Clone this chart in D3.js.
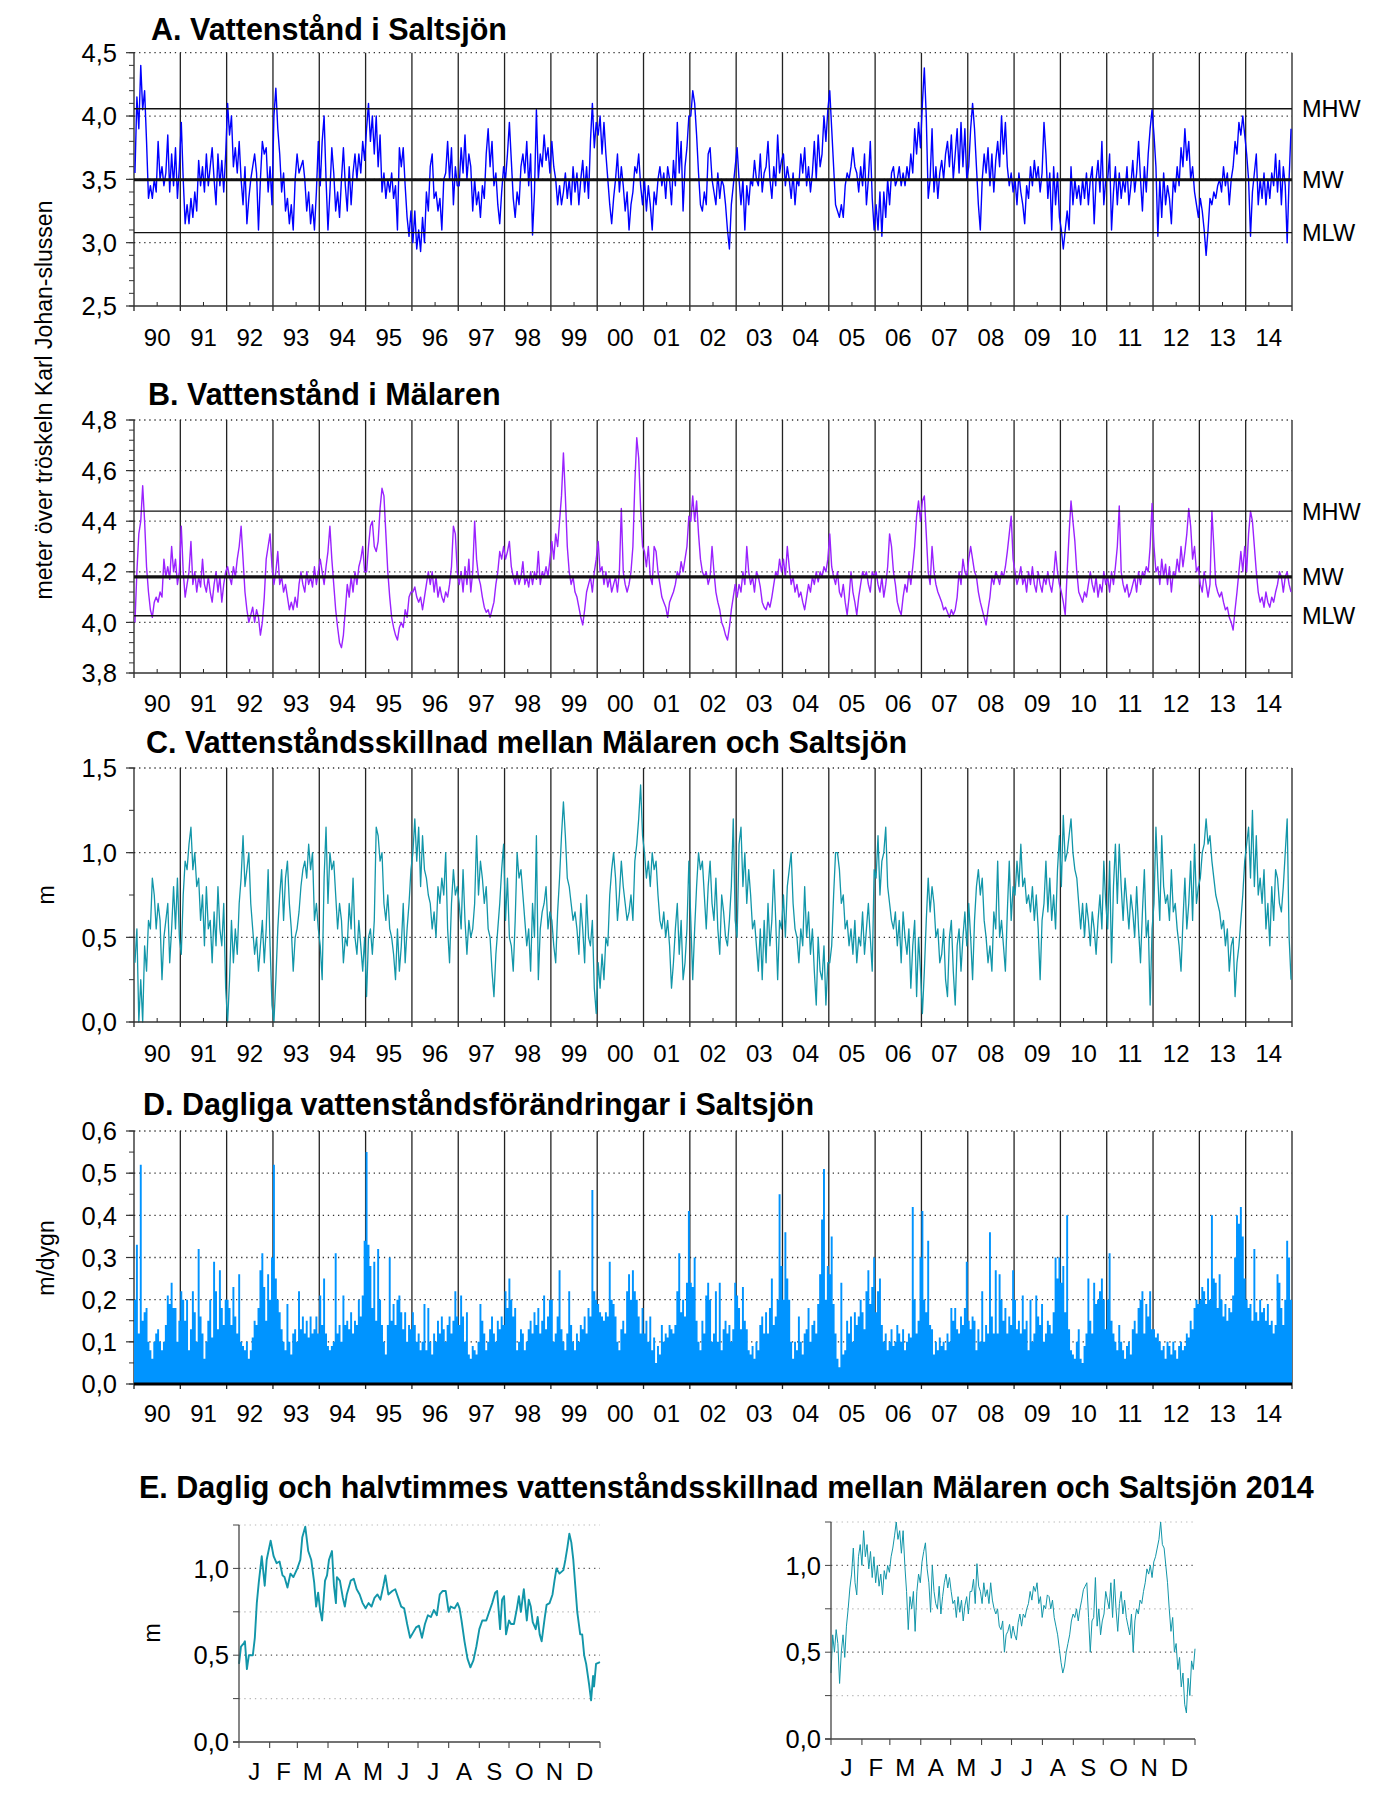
<!DOCTYPE html>
<html><head><meta charset="utf-8">
<script src="https://cdn.jsdelivr.net/npm/d3@7"></script>
<style>
body{margin:0;background:#fff;}
svg text{font-family:"Liberation Sans",Arial,Helvetica,sans-serif;fill:#000;}
</style></head><body>
<svg id="c" width="1387" height="1797"></svg>
<script>
// ---------------- DATA ----------------
const years = d3.range(1990, 2015);
const yearLabels = years.map(y => String(y % 100).padStart(2, "0"));

// A. Vattenstånd i Saltsjön (m), ~semi-monthly readings, one row per year 1990..2014
const saltRows = [
[3.55,4.15,3.9,4.4,4.05,4.2,3.8,3.35,3.45,3.35,3.5,3.4,3.8,3.5,3.6,3.45,3.55,3.85,3.4,3.7,3.45,3.75,3.35,3.6],
[3.95,3.5,3.15,3.3,3.15,3.35,3.2,3.4,3.25,3.65,3.45,3.6,3.4,3.7,3.45,3.6,3.75,3.5,3.3,3.7,3.45,3.65,3.4,3.7],
[4.1,3.85,4.0,3.6,3.75,3.55,3.8,3.5,3.3,3.6,3.15,3.35,3.5,3.6,3.7,3.55,3.1,3.5,3.8,3.7,3.75,3.4,3.6,3.3],
[4.0,4.22,3.9,3.7,3.4,3.55,3.25,3.35,3.15,3.3,3.1,3.5,3.7,3.55,3.6,3.65,3.5,3.25,3.4,3.15,3.3,3.1,3.4,3.8],
[3.45,3.8,4.0,3.5,3.1,3.4,3.75,3.55,3.25,3.4,3.2,3.5,3.75,3.45,3.25,3.6,3.3,3.55,3.7,3.5,3.7,3.55,3.8,3.65],
[3.9,4.1,3.8,4.0,3.7,4.0,3.6,3.85,3.4,3.55,3.35,3.5,3.4,3.55,3.35,3.45,3.1,3.75,3.6,3.75,3.45,3.2,3.05,3.25],
[3.0,3.25,2.95,3.1,2.93,3.2,3.0,3.4,3.25,3.6,3.7,3.35,3.4,3.25,3.35,3.1,3.5,3.55,3.8,3.5,3.75,3.3,3.6,3.45],
[3.45,3.75,3.55,3.85,3.5,3.7,3.6,3.25,3.5,3.3,3.4,3.2,3.45,3.35,3.7,3.9,3.6,3.8,3.45,3.55,3.3,3.15,3.4,3.6],
[3.5,3.7,3.95,3.65,3.35,3.2,3.4,3.3,3.6,3.7,3.55,3.8,3.45,3.7,3.06,3.4,4.05,3.5,3.7,3.6,3.85,3.65,3.75,3.55],
[3.8,3.6,3.5,3.3,3.45,3.3,3.4,3.55,3.35,3.5,3.3,3.6,3.4,3.55,3.3,3.5,3.65,3.4,3.6,3.35,3.8,4.1,3.75,3.95],
[3.85,4.0,3.7,3.95,3.7,3.5,3.3,3.15,3.35,3.5,3.7,3.4,3.6,3.45,3.25,3.4,3.1,3.3,3.4,3.6,3.55,3.7,3.45,3.3],
[3.5,3.25,3.45,3.3,3.1,3.4,3.3,3.5,3.6,3.45,3.55,3.35,3.6,3.5,3.3,3.65,3.45,3.95,3.55,3.8,3.25,3.6,3.75,4.0],
[4.0,4.2,4.1,3.85,3.55,3.3,3.25,3.4,3.3,3.7,3.75,3.5,3.4,3.3,3.55,3.35,3.5,3.45,3.3,3.1,2.95,3.3,3.45,3.6],
[3.75,3.5,3.3,3.5,3.1,3.45,3.3,3.5,3.45,3.65,3.5,3.45,3.7,3.4,3.55,3.6,3.8,3.5,3.35,3.6,3.45,3.85,3.55,3.65],
[3.7,3.45,3.6,3.5,3.35,3.55,3.3,3.5,3.45,3.7,3.55,3.75,3.45,3.6,3.4,3.55,3.8,3.5,3.85,3.6,3.7,4.0,3.8,4.05],
[4.2,3.9,3.6,3.3,3.25,3.2,3.3,3.2,3.45,3.55,3.5,3.6,3.75,3.6,3.55,3.4,3.6,3.45,3.7,3.3,3.5,3.8,3.35,3.1],
[3.3,3.1,3.4,3.05,3.4,3.2,3.5,3.3,3.55,3.6,3.45,3.5,3.6,3.45,3.55,3.45,3.6,3.5,3.7,3.55,3.9,3.7,3.95,3.75],
[4.1,4.38,4.0,3.35,3.5,3.9,3.4,3.6,3.35,3.55,3.65,3.5,3.7,3.8,3.6,3.85,3.5,3.7,3.9,3.55,3.95,3.6,3.9,3.5],
[3.6,3.9,4.1,3.9,3.6,3.3,3.1,3.5,3.7,3.55,3.75,3.45,3.7,3.4,3.65,3.8,3.6,4.0,3.7,3.95,3.6,3.45,3.55,3.4],
[3.5,3.3,3.55,3.4,3.3,3.15,3.45,3.35,3.6,3.45,3.65,3.5,3.6,3.4,3.55,3.95,3.7,3.35,3.55,3.1,3.6,3.3,3.55,3.2],
[3.1,2.95,3.1,3.25,3.1,3.6,3.3,3.5,3.35,3.45,3.3,3.5,3.35,3.55,3.3,3.5,3.6,3.15,3.5,3.65,3.4,3.8,3.3,3.5],
[3.5,3.7,3.1,3.4,3.6,3.3,3.55,3.35,3.5,3.4,3.6,3.3,3.45,3.65,3.4,3.55,3.8,3.5,3.25,3.6,3.4,3.7,3.9,4.05],
[3.85,3.6,3.05,3.5,3.2,3.55,3.3,3.45,3.35,3.15,3.5,3.4,3.6,3.45,3.75,3.6,3.9,3.65,3.8,3.5,3.6,3.4,3.3,3.2],
[3.35,3.25,3.1,2.9,3.1,3.35,3.3,3.4,3.35,3.45,3.5,3.4,3.6,3.45,3.55,3.3,3.5,3.6,3.8,3.7,3.95,3.85,4.0,3.85],
[3.7,3.5,3.05,3.4,3.55,3.7,3.3,3.5,3.35,3.55,3.3,3.5,3.35,3.55,3.45,3.7,3.4,3.65,3.3,3.6,3.45,3.0,3.5,3.9]
];
const saltRefNames = ["MHW", "MW", "MLW"];
const saltRefValues = [4.058, 3.497, 3.079];

// B. Vattenstånd i Mälaren (m)
const malarRows = [
[4.0,4.2,4.35,4.4,4.54,4.4,4.22,4.12,4.05,4.02,4.08,4.1,4.08,4.12,4.1,4.25,4.18,4.22,4.17,4.3,4.2,4.25,4.15,4.2],
[4.38,4.2,4.1,4.15,4.2,4.32,4.15,4.2,4.12,4.18,4.14,4.25,4.15,4.12,4.18,4.12,4.08,4.15,4.2,4.12,4.18,4.08,4.15,4.2],
[4.22,4.18,4.15,4.22,4.18,4.25,4.3,4.38,4.25,4.12,4.05,4.0,4.03,4.06,4.0,4.05,4.02,3.95,4.0,4.1,4.25,4.3,4.35,4.22],
[4.15,4.2,4.28,4.15,4.18,4.12,4.15,4.1,4.05,4.08,4.05,4.1,4.06,4.15,4.2,4.15,4.12,4.2,4.15,4.18,4.14,4.22,4.15,4.2],
[4.25,4.2,4.15,4.22,4.28,4.38,4.25,4.15,4.05,3.98,3.92,3.9,3.95,4.05,4.15,4.1,4.18,4.12,4.2,4.15,4.22,4.25,4.3,4.2],
[4.2,4.3,4.38,4.4,4.3,4.28,4.32,4.45,4.53,4.5,4.35,4.2,4.1,4.02,3.98,3.95,3.93,3.98,4.0,3.98,4.05,4.02,4.1,4.12],
[4.12,4.14,4.1,4.08,4.1,4.05,4.1,4.15,4.2,4.15,4.2,4.12,4.18,4.1,4.14,4.1,4.08,4.12,4.1,4.15,4.22,4.38,4.35,4.2],
[4.15,4.2,4.12,4.22,4.15,4.25,4.12,4.2,4.4,4.25,4.18,4.15,4.1,4.06,4.04,4.05,4.02,4.05,4.08,4.15,4.2,4.28,4.25,4.3],
[4.25,4.28,4.32,4.22,4.18,4.15,4.2,4.15,4.18,4.24,4.15,4.18,4.14,4.2,4.15,4.2,4.17,4.28,4.15,4.2,4.18,4.22,4.18,4.25],
[4.32,4.25,4.35,4.3,4.4,4.5,4.67,4.5,4.3,4.2,4.15,4.18,4.12,4.1,4.06,4.02,3.99,4.05,4.12,4.15,4.18,4.12,4.2,4.25],
[4.32,4.2,4.22,4.15,4.2,4.14,4.18,4.12,4.15,4.18,4.12,4.2,4.45,4.2,4.15,4.12,4.15,4.2,4.3,4.55,4.73,4.65,4.45,4.3],
[4.28,4.22,4.3,4.18,4.15,4.3,4.28,4.2,4.15,4.1,4.08,4.06,4.02,4.08,4.1,4.12,4.15,4.2,4.18,4.24,4.2,4.25,4.3,4.42],
[4.4,4.5,4.4,4.48,4.35,4.25,4.2,4.18,4.2,4.15,4.18,4.3,4.2,4.12,4.08,4.05,4.0,3.98,3.95,3.93,3.98,4.05,4.1,4.15],
[4.1,4.15,4.12,4.2,4.15,4.3,4.2,4.15,4.18,4.12,4.2,4.18,4.14,4.08,4.06,4.05,4.08,4.06,4.1,4.15,4.2,4.18,4.25,4.2],
[4.25,4.18,4.3,4.22,4.15,4.18,4.12,4.15,4.1,4.12,4.08,4.05,4.1,4.15,4.12,4.18,4.15,4.2,4.16,4.2,4.18,4.22,4.2,4.25],
[4.35,4.22,4.18,4.15,4.2,4.12,4.1,4.15,4.08,4.03,4.1,4.2,4.12,4.08,4.03,4.1,4.15,4.2,4.18,4.2,4.15,4.12,4.2,4.18],
[4.2,4.15,4.12,4.18,4.1,4.15,4.22,4.35,4.3,4.2,4.15,4.08,4.05,4.03,4.1,4.15,4.12,4.2,4.15,4.22,4.3,4.42,4.48,4.4],
[4.48,4.5,4.35,4.2,4.15,4.3,4.2,4.15,4.12,4.1,4.08,4.05,4.06,4.04,4.02,4.05,4.03,4.05,4.1,4.2,4.15,4.25,4.2,4.18],
[4.25,4.3,4.25,4.2,4.18,4.12,4.08,4.05,4.02,3.99,4.05,4.1,4.18,4.15,4.2,4.18,4.15,4.2,4.18,4.22,4.28,4.35,4.42,4.25],
[4.2,4.15,4.18,4.22,4.15,4.18,4.12,4.2,4.15,4.22,4.15,4.12,4.2,4.15,4.12,4.18,4.15,4.2,4.15,4.12,4.18,4.28,4.2,4.15],
[4.12,4.08,4.03,4.2,4.35,4.48,4.4,4.32,4.2,4.12,4.1,4.08,4.12,4.1,4.15,4.2,4.15,4.12,4.18,4.1,4.15,4.12,4.2,4.15],
[4.18,4.12,4.2,4.15,4.22,4.3,4.46,4.2,4.15,4.12,4.15,4.1,4.12,4.15,4.18,4.12,4.2,4.15,4.2,4.18,4.22,4.2,4.3,4.47],
[4.3,4.2,4.22,4.15,4.25,4.18,4.23,4.15,4.22,4.12,4.2,4.18,4.25,4.2,4.3,4.22,4.28,4.35,4.45,4.38,4.25,4.3,4.2,4.22],
[4.15,4.12,4.2,4.15,4.1,4.15,4.44,4.3,4.15,4.12,4.1,4.12,4.08,4.05,4.06,4.02,4.0,3.97,4.05,4.12,4.2,4.28,4.2,4.3],
[4.2,4.35,4.44,4.4,4.3,4.2,4.12,4.08,4.1,4.06,4.12,4.08,4.06,4.1,4.08,4.12,4.15,4.2,4.18,4.12,4.18,4.2,4.15,4.12]
];
const malarRefNames = ["MHW", "MW", "MLW"];
const malarRefValues = [4.44, 4.18, 4.026];

// C. Vattenståndsskillnad mellan Mälaren och Saltsjön (m)
const diffRows = [
[0.35,0.55,0.0,0.25,0.0,0.45,0.3,0.6,0.55,0.85,0.75,0.55,0.7,0.6,0.25,0.5,0.6,0.7,0.35,0.55,0.8,0.55,0.85,0.5],
[0.4,0.75,0.95,0.9,1.05,1.15,0.9,1.0,0.8,0.85,0.6,0.75,0.45,0.8,0.55,0.6,0.35,0.65,0.45,0.8,0.55,0.45,0.7,0.2],
[0.0,0.25,0.6,0.35,0.55,0.4,0.7,0.85,1.1,0.8,0.9,1.0,0.7,0.55,0.4,0.5,0.3,0.45,0.6,0.35,0.55,0.9,0.45,0.1],
[0.0,0.25,0.55,0.75,0.9,0.6,0.85,0.95,0.7,0.55,0.3,0.5,0.55,0.65,0.8,0.9,0.95,0.85,1.05,0.9,1.0,0.6,0.7,0.55],
[0.45,0.25,0.85,1.15,0.7,1.0,0.9,0.95,0.75,0.55,0.7,0.6,0.35,0.5,0.45,0.7,0.55,0.85,0.5,0.4,0.6,0.45,0.3,0.5],
[0.15,0.5,0.55,0.4,0.6,1.15,1.1,0.95,1.0,0.7,0.6,0.75,0.55,0.5,0.4,0.25,0.55,0.3,0.45,0.7,0.35,0.55,0.7,0.9],
[1.0,1.2,0.95,1.15,0.8,1.1,0.9,0.85,0.75,0.7,0.55,0.65,0.5,0.8,0.7,0.85,0.75,1.0,0.55,0.35,0.7,0.9,0.75,0.8],
[0.7,0.55,0.9,0.6,0.4,0.6,0.5,0.55,0.7,1.1,0.75,0.95,0.85,0.7,0.8,0.55,0.5,0.3,0.15,0.4,0.55,0.7,0.9,1.05],
[0.6,0.85,0.5,0.45,0.3,0.6,1.0,0.85,0.9,0.75,0.6,0.45,0.55,0.3,0.7,0.5,1.1,0.25,0.55,0.65,0.7,0.8,0.55,0.65],
[0.6,0.45,0.35,0.65,0.85,1.1,1.3,1.1,0.85,0.8,0.7,0.6,0.65,0.55,0.4,0.7,0.55,0.35,0.75,0.5,0.45,0.6,0.2,0.05],
[0.35,0.2,0.4,0.25,0.5,0.45,0.75,0.9,1.0,0.85,0.6,0.75,0.95,0.8,0.7,0.6,0.65,0.75,0.6,0.95,1.05,1.2,1.4,1.1],
[1.0,0.85,0.95,0.8,1.0,0.9,0.95,0.75,0.6,0.55,0.65,0.5,0.6,0.45,0.2,0.35,0.55,0.7,0.4,0.6,0.25,0.35,0.55,0.95],
[0.6,0.25,0.55,0.8,1.0,0.9,0.95,0.75,0.55,0.8,0.95,0.7,0.6,0.85,0.55,0.4,0.75,0.65,0.5,0.45,0.6,0.8,1.2,0.6],
[0.5,1.05,1.15,0.8,1.0,0.7,0.9,0.75,0.55,0.6,0.45,0.3,0.55,0.25,0.6,0.35,0.7,0.45,0.6,0.9,0.6,0.25,0.6,0.55],
[0.75,0.5,0.8,0.9,1.0,0.7,0.55,0.5,0.35,0.55,0.45,0.8,0.5,0.65,0.4,0.55,0.3,0.1,0.5,0.3,0.25,0.45,0.1,0.35],
[0.35,0.45,0.75,1.0,1.0,0.9,0.7,0.75,0.55,0.6,0.45,0.55,0.4,0.6,0.35,0.5,0.45,0.65,0.4,0.55,0.7,0.5,0.3,0.9],
[0.85,1.1,0.75,0.95,1.0,1.15,0.8,0.7,0.6,0.55,0.65,0.45,0.6,0.35,0.65,0.5,0.4,0.55,0.2,0.45,0.6,0.15,0.5,0.3],
[0.05,0.3,0.6,0.85,0.65,0.8,0.7,0.5,0.55,0.35,0.4,0.55,0.25,0.15,0.5,0.6,0.3,0.1,0.45,0.55,0.3,0.5,0.65,0.45],
[0.7,0.5,0.25,0.6,0.8,0.9,0.75,0.85,0.6,0.5,0.35,0.45,0.3,0.65,0.55,0.95,0.5,0.6,0.45,0.3,0.65,0.95,0.6,0.8],
[0.75,0.95,0.8,1.05,0.8,0.85,0.7,0.75,0.65,0.8,0.6,0.75,0.55,0.25,0.6,0.7,0.95,0.65,0.85,0.6,0.75,0.55,0.9,1.1],
[0.8,1.22,0.95,1.0,1.1,1.2,1.0,0.9,0.85,0.7,0.55,0.7,0.5,0.7,0.6,0.45,0.65,0.55,0.4,0.6,0.75,0.55,0.95,0.7],
[0.55,0.95,0.35,0.8,1.05,0.7,1.05,0.8,0.6,0.85,0.7,0.55,0.75,0.65,0.5,0.8,0.55,0.35,0.65,0.9,0.5,0.6,0.1,0.55],
[0.7,1.15,0.85,0.6,1.1,0.8,0.7,0.75,0.6,0.9,0.65,0.7,0.55,0.45,0.3,0.6,0.85,0.55,0.7,0.95,0.6,1.05,0.7,0.8],
[0.85,1.0,1.05,1.2,1.05,1.1,0.95,0.85,0.75,0.7,0.65,0.55,0.6,0.45,0.55,0.3,0.45,0.5,0.15,0.35,0.45,0.6,0.75,0.95],
[1.05,1.15,0.85,1.25,0.8,1.1,0.75,0.85,0.7,0.9,0.55,0.7,0.45,0.8,0.6,0.9,0.85,0.7,0.65,0.8,1.0,1.2,0.5,0.25]
];

// D. Dagliga vattenståndsförändringar i Saltsjön (m/dygn)
const changeRows = [
[0.2,0.33,0.12,0.52,0.15,0.17,0.18,0.1,0.08,0.06,0.1,0.12,0.13,0.1,0.08,0.1,0.14,0.21,0.19,0.24,0.18,0.18,0.1,0.15],
[0.22,0.2,0.15,0.2,0.08,0.13,0.22,0.17,0.1,0.32,0.16,0.12,0.06,0.1,0.15,0.2,0.11,0.29,0.22,0.13,0.27,0.18,0.14,0.2],
[0.2,0.18,0.14,0.23,0.16,0.12,0.26,0.1,0.09,0.08,0.1,0.06,0.08,0.11,0.15,0.14,0.18,0.27,0.31,0.23,0.15,0.26,0.2,0.3],
[0.52,0.25,0.2,0.17,0.13,0.1,0.08,0.19,0.1,0.07,0.12,0.13,0.1,0.22,0.13,0.16,0.12,0.15,0.11,0.16,0.12,0.13,0.16,0.12],
[0.21,0.14,0.25,0.12,0.09,0.08,0.09,0.1,0.31,0.12,0.14,0.1,0.21,0.14,0.15,0.13,0.17,0.12,0.15,0.14,0.2,0.16,0.21,0.34],
[0.55,0.33,0.28,0.18,0.29,0.15,0.32,0.2,0.14,0.1,0.07,0.14,0.3,0.15,0.19,0.14,0.2,0.21,0.17,0.13,0.17,0.1,0.14,0.13],
[0.17,0.14,0.1,0.12,0.08,0.1,0.19,0.08,0.18,0.1,0.07,0.12,0.1,0.15,0.12,0.16,0.13,0.1,0.14,0.16,0.12,0.15,0.22,0.16],
[0.14,0.21,0.16,0.1,0.17,0.07,0.06,0.09,0.08,0.07,0.1,0.19,0.15,0.12,0.08,0.1,0.13,0.16,0.12,0.1,0.15,0.13,0.16,0.14],
[0.22,0.18,0.25,0.2,0.16,0.18,0.08,0.1,0.13,0.12,0.08,0.1,0.13,0.15,0.12,0.17,0.14,0.18,0.12,0.15,0.21,0.13,0.16,0.2],
[0.2,0.1,0.12,0.16,0.27,0.13,0.1,0.08,0.12,0.22,0.14,0.1,0.08,0.12,0.1,0.14,0.13,0.16,0.12,0.18,0.16,0.46,0.22,0.2],
[0.19,0.17,0.16,0.15,0.17,0.16,0.29,0.2,0.19,0.16,0.1,0.08,0.13,0.15,0.12,0.22,0.26,0.2,0.27,0.22,0.2,0.16,0.12,0.18],
[0.12,0.15,0.1,0.16,0.08,0.11,0.05,0.09,0.07,0.14,0.1,0.12,0.11,0.14,0.13,0.12,0.14,0.22,0.31,0.17,0.2,0.16,0.24,0.41],
[0.24,0.23,0.3,0.15,0.1,0.08,0.15,0.12,0.21,0.24,0.2,0.1,0.12,0.22,0.1,0.24,0.08,0.13,0.15,0.12,0.14,0.1,0.13,0.24],
[0.21,0.18,0.13,0.23,0.15,0.13,0.08,0.07,0.09,0.06,0.1,0.08,0.14,0.16,0.12,0.17,0.12,0.18,0.25,0.14,0.16,0.2,0.45,0.28],
[0.2,0.36,0.25,0.2,0.1,0.06,0.1,0.08,0.16,0.1,0.07,0.12,0.13,0.18,0.1,0.14,0.15,0.12,0.19,0.26,0.39,0.51,0.2,0.28],
[0.26,0.35,0.19,0.12,0.06,0.04,0.24,0.07,0.08,0.15,0.12,0.16,0.1,0.17,0.14,0.16,0.2,0.17,0.13,0.22,0.27,0.19,0.23,0.3],
[0.17,0.22,0.25,0.14,0.1,0.12,0.08,0.1,0.13,0.09,0.1,0.14,0.12,0.1,0.13,0.08,0.1,0.12,0.11,0.42,0.2,0.12,0.15,0.3],
[0.41,0.2,0.17,0.34,0.14,0.13,0.07,0.1,0.08,0.11,0.09,0.1,0.08,0.12,0.1,0.18,0.15,0.18,0.13,0.12,0.16,0.14,0.18,0.29],
[0.15,0.13,0.16,0.15,0.08,0.13,0.1,0.22,0.1,0.14,0.12,0.36,0.16,0.12,0.27,0.12,0.26,0.2,0.15,0.18,0.12,0.16,0.14,0.27],
[0.2,0.13,0.15,0.12,0.21,0.13,0.15,0.08,0.2,0.1,0.12,0.21,0.16,0.14,0.19,0.1,0.12,0.15,0.14,0.12,0.17,0.3,0.25,0.3],
[0.24,0.28,0.17,0.4,0.13,0.08,0.07,0.06,0.1,0.13,0.06,0.05,0.09,0.12,0.25,0.15,0.12,0.24,0.19,0.2,0.22,0.25,0.2,0.13],
[0.2,0.31,0.15,0.12,0.1,0.08,0.14,0.1,0.08,0.06,0.09,0.1,0.07,0.13,0.15,0.12,0.18,0.2,0.22,0.12,0.19,0.16,0.22,0.13],
[0.13,0.11,0.12,0.1,0.08,0.09,0.06,0.1,0.09,0.07,0.1,0.08,0.06,0.09,0.1,0.08,0.09,0.12,0.11,0.15,0.13,0.18,0.2,0.19],
[0.2,0.23,0.22,0.19,0.25,0.2,0.4,0.25,0.24,0.18,0.26,0.2,0.16,0.19,0.15,0.18,0.17,0.21,0.3,0.4,0.38,0.42,0.35,0.25],
[0.2,0.18,0.19,0.15,0.32,0.17,0.15,0.2,0.17,0.18,0.15,0.19,0.14,0.15,0.12,0.14,0.26,0.24,0.18,0.14,0.2,0.34,0.3,0.2]
];

// E. 2014: daily (left) and half-hourly (right) difference (m)
const monthLabels = ["J","F","M","A","M","J","J","A","S","O","N","D"];
const monthStarts = [0,31,59,90,120,151,181,212,243,273,304,334,365];
const eDailyDays = [0,2,5,6,8,10,14,16,18,20,23,26,28,32,35,38,41,44,46,49,52,55,59,62,64,67,70,73,76,78,80,82,84,87,89,91,94,96,98,99,102,105,107,109,113,116,119,122,125,128,131,134,137,140,143,146,148,151,155,158,161,164,167,170,173,176,179,182,185,188,191,194,197,200,203,206,209,212,214,218,221,223,225,228,231,234,237,240,243,246,250,253,256,259,261,264,266,268,270,273,275,278,281,283,285,288,291,293,295,297,300,302,304,306,309,311,314,317,319,321,324,328,330,332,334,336,338,340,342,345,347,349,351,354,356,358,359,361,365];
const eDailyVals = [0.45,0.55,0.57,0.58,0.42,0.5,0.5,0.6,0.8,0.92,1.07,0.9,1.05,1.16,1.07,1.03,1.04,0.96,0.95,0.89,0.97,0.95,1.0,1.05,1.18,1.24,1.1,1.05,0.92,0.78,0.86,0.76,0.7,0.93,0.96,1.05,1.1,0.9,0.8,0.95,0.93,0.83,0.78,0.85,0.93,0.94,0.88,0.85,0.8,0.77,0.8,0.78,0.83,0.85,0.82,0.9,0.96,0.85,0.87,0.88,0.83,0.78,0.77,0.68,0.6,0.63,0.66,0.67,0.6,0.68,0.73,0.72,0.76,0.73,0.85,0.87,0.87,0.75,0.78,0.77,0.8,0.77,0.7,0.58,0.48,0.43,0.47,0.55,0.65,0.7,0.7,0.75,0.8,0.86,0.87,0.65,0.82,0.84,0.62,0.7,0.68,0.68,0.77,0.84,0.75,0.88,0.7,0.82,0.78,0.69,0.65,0.72,0.62,0.58,0.71,0.79,0.8,0.85,0.93,1.0,0.97,0.99,1.05,1.12,1.2,1.15,1.05,0.9,0.75,0.62,0.62,0.5,0.45,0.33,0.24,0.38,0.32,0.45,0.46];
const eHalfHourVals = [0.38,0.6,0.5,0.63,0.55,0.32,0.5,0.6,0.47,0.65,0.75,0.87,0.95,1.1,0.9,0.83,1.05,1.12,1.0,1.2,1.05,1.12,0.98,1.08,0.93,1.05,0.9,1.0,0.88,0.95,0.83,0.97,0.92,1.0,0.96,1.05,1.1,1.17,1.25,1.15,1.2,1.07,1.2,1.0,0.85,0.63,0.82,0.75,0.85,0.62,0.85,0.95,0.9,1.02,1.08,1.13,0.98,0.9,0.73,1.0,0.85,0.78,0.75,0.88,0.72,0.82,0.9,0.95,0.87,0.93,0.85,0.78,0.8,0.7,0.82,0.73,0.8,0.68,0.77,0.82,0.72,0.85,0.85,0.92,0.78,1.01,0.88,0.85,0.78,0.9,0.82,0.86,0.78,0.9,0.8,0.75,0.72,0.75,0.65,0.63,0.68,0.5,0.6,0.62,0.66,0.58,0.65,0.6,0.57,0.67,0.72,0.65,0.72,0.7,0.75,0.78,0.85,0.8,0.88,0.85,0.9,0.78,0.82,0.7,0.77,0.75,0.83,0.82,0.75,0.8,0.7,0.65,0.6,0.52,0.44,0.38,0.42,0.5,0.55,0.6,0.68,0.72,0.7,0.75,0.68,0.75,0.8,0.86,0.88,0.9,0.7,0.5,0.68,0.7,0.93,0.65,0.75,0.6,0.68,0.72,0.85,0.8,0.75,0.9,0.7,0.92,0.75,0.62,0.78,0.85,0.72,0.8,0.7,0.65,0.6,0.72,0.5,0.68,0.75,0.72,0.8,0.78,0.85,0.9,0.98,0.95,1.0,0.93,1.02,1.05,1.1,1.15,1.25,1.12,1.1,1.0,0.9,0.75,0.62,0.7,0.5,0.55,0.4,0.47,0.3,0.38,0.2,0.15,0.35,0.25,0.45,0.4,0.52];

// ---------------- DRAWING ----------------
const svg = d3.select("#c");
const X0 = 134, X1 = 1292;
const x = d3.scaleLinear().domain([1990, 2015]).range([X0, X1]);
const comma = v => d3.format(".1f")(v).replace(".", ",");
const FONT = 24;
const TICKFONT = 25.5;
const TITLE = 30.5;

function toSeries(rows) {
  const out = [];
  rows.forEach((row, i) => row.forEach((v, j) => out.push({
    t: years[i] + (j + 0.5) / row.length,
    t0: years[i] + j / row.length,
    t1: years[i] + (j + 1) / row.length, v })));
  return out;
}

function longPanel(o) {
  const g = svg.append("g");
  const y = d3.scaleLinear().domain(o.domain).range([o.bottom, o.top]);
  const nMin = Math.round((o.domain[1] - o.domain[0]) / o.minor);
  const minors = d3.range(nMin + 1).map(i => o.domain[0] + i * o.minor);
  const nMaj = Math.round((o.domain[1] - o.domain[0]) / o.major);
  const majors = d3.range(nMaj + 1).map(i => o.domain[0] + i * o.major);

  g.selectAll("line.grid").data(majors.slice(1)).join("line")
    .attr("x1", X0).attr("x2", X1).attr("y1", d => y(d)).attr("y2", d => y(d))
    .attr("stroke", "#333").attr("stroke-width", 1.3).attr("stroke-dasharray", "1.3,3.8");
  g.selectAll("line.yl").data(d3.range(1990, 2016)).join("line")
    .attr("x1", d => x(d)).attr("x2", d => x(d)).attr("y1", o.top).attr("y2", o.bottom + 5)
    .attr("stroke", "#222").attr("stroke-width", 1.3);
  g.selectAll("line.my").data(years).join("line")
    .attr("x1", d => x(d + 0.5)).attr("x2", d => x(d + 0.5)).attr("y1", o.bottom).attr("y2", o.bottom - 4)
    .attr("stroke", "#222").attr("stroke-width", 1);
  g.selectAll("line.mt").data(minors).join("line")
    .attr("x1", X0 - 5).attr("x2", X0).attr("y1", d => y(d)).attr("y2", d => y(d))
    .attr("stroke", "#333").attr("stroke-width", 1);
  g.selectAll("line.Mt").data(majors).join("line")
    .attr("x1", X0 - 8).attr("x2", X0).attr("y1", d => y(d)).attr("y2", d => y(d))
    .attr("stroke", "#333").attr("stroke-width", 1.2);
  g.selectAll("text.yt").data(majors).join("text")
    .attr("x", X0 - 17).attr("y", d => y(d)).attr("dy", "0.36em")
    .attr("text-anchor", "end").attr("font-size", TICKFONT).text(comma);

  if (o.bars) {
    const pts = o.data.concat([{ t0: o.data[o.data.length - 1].t1, v: o.data[o.data.length - 1].v }]);
    const ar = d3.area().curve(d3.curveStepAfter).x(d => x(d.t0)).y0(y(0)).y1(d => y(d.v));
    g.append("path").datum(pts).attr("d", ar).attr("fill", o.color);
  } else {
    const ln = d3.line().x(d => x(d.t)).y(d => y(d.v));
    g.append("path").datum(o.data).attr("d", ln).attr("fill", "none")
      .attr("stroke", o.color).attr("stroke-width", o.width || 1.4).attr("stroke-linejoin", "round");
  }
  if (o.refValues) {
    o.refValues.forEach((v, i) => {
      const name = o.refNames[i];
      g.append("line").attr("x1", X0).attr("x2", X1).attr("y1", y(v)).attr("y2", y(v))
        .attr("stroke", "#111").attr("stroke-width", name === "MW" ? 3.2 : 1.4);
      g.append("text").attr("x", X1 + 10).attr("y", y(v)).attr("dy", "0.36em")
        .attr("font-size", 23.5).text(name);
    });
  }
  g.append("line").attr("x1", X0).attr("x2", X1).attr("y1", o.bottom).attr("y2", o.bottom)
    .attr("stroke", o.bars ? "#000" : "#333").attr("stroke-width", o.bars ? 3 : 1.5);
  g.selectAll("text.yr").data(years).join("text")
    .attr("x", d => x(d + 0.5)).attr("y", o.labelY).attr("dy", "0.36em")
    .attr("text-anchor", "middle").attr("font-size", FONT)
    .text((d, i) => yearLabels[i]);
  g.append("text").attr("x", o.titleX).attr("y", o.titleY)
    .attr("font-size", TITLE).attr("font-weight", "bold").text(o.title);
}

longPanel({ title: "A. Vattenstånd i Saltsjön", titleX: 151, titleY: 40,
  domain: [2.5, 4.5], major: 0.5, minor: 0.1, top: 52.7, bottom: 306, labelY: 337,
  data: toSeries(saltRows), color: "#0000ff", width: 1.4,
  refNames: saltRefNames, refValues: saltRefValues });

longPanel({ title: "B. Vattenstånd i Mälaren", titleX: 148, titleY: 405,
  domain: [3.8, 4.8], major: 0.2, minor: 0.04, top: 420, bottom: 673, labelY: 703,
  data: toSeries(malarRows), color: "#9a22ff", width: 1.4,
  refNames: malarRefNames, refValues: malarRefValues });

longPanel({ title: "C. Vattenståndsskillnad mellan Mälaren och Saltsjön", titleX: 146, titleY: 753,
  domain: [0, 1.5], major: 0.5, minor: 0.25, top: 768, bottom: 1022, labelY: 1053,
  data: toSeries(diffRows), color: "#1296a9", width: 1.3 });

longPanel({ title: "D. Dagliga vattenståndsförändringar i Saltsjön", titleX: 143, titleY: 1115,
  domain: [0, 0.6], major: 0.1, minor: 0.05, top: 1131, bottom: 1384, labelY: 1413,
  data: toSeries(changeRows), color: "#0094ff", bars: true });

function vLabel(txt, cx, cy) {
  svg.append("text").attr("transform", `translate(${cx},${cy}) rotate(-90)`)
    .attr("text-anchor", "middle").attr("dy", "0.36em").attr("font-size", 23).text(txt);
}
vLabel("meter över tröskeln Karl Johan-slussen", 44, 400);
vLabel("m", 46, 895);
vLabel("m/dygn", 46, 1258);
vLabel("m", 152, 1633);

svg.append("text").attr("x", 139).attr("y", 1498).attr("font-size", TITLE).attr("font-weight", "bold")
  .text("E. Daglig och halvtimmes vattenståndsskillnad mellan Mälaren och Saltsjön 2014");

function ePanel(o) {
  const g = svg.append("g");
  const ex = d3.scaleLinear().domain([0, 365]).range([o.x0, o.x1]);
  const ey = d3.scaleLinear().domain([0, 1.25]).range([o.bottom, o.top]);
  const grid = [0.25, 0.5, 0.75, 1.0, 1.25];
  g.selectAll("line.g").data(grid).join("line")
    .attr("x1", o.x0).attr("x2", o.x1).attr("y1", d => ey(d)).attr("y2", d => ey(d))
    .attr("stroke", d => (Math.abs(d - 0.5) < 1e-6 || Math.abs(d - 1) < 1e-6) ? "#555" : "#b5b5b5")
    .attr("stroke-width", 1.2).attr("stroke-dasharray", "1.3,4");
  g.selectAll("line.t").data([0].concat(grid)).join("line")
    .attr("x1", o.x0 - 6).attr("x2", o.x0).attr("y1", d => ey(d)).attr("y2", d => ey(d))
    .attr("stroke", "#444").attr("stroke-width", 1);
  g.selectAll("text.yt").data([0, 0.5, 1.0]).join("text")
    .attr("x", o.x0 - 10).attr("y", d => ey(d)).attr("dy", "0.36em")
    .attr("text-anchor", "end").attr("font-size", TICKFONT).text(comma);
  const ln = d3.line().x(d => ex(d.d)).y(d => ey(d.v));
  g.append("path").datum(o.data).attr("d", ln).attr("fill", "none")
    .attr("stroke", "#1296a9").attr("stroke-width", o.width).attr("stroke-linejoin", "round");
  g.append("line").attr("x1", o.x0).attr("x2", o.x0).attr("y1", o.top).attr("y2", o.bottom)
    .attr("stroke", "#444").attr("stroke-width", 1.3);
  g.append("line").attr("x1", o.x0 - 6).attr("x2", o.x1).attr("y1", o.bottom).attr("y2", o.bottom)
    .attr("stroke", "#444").attr("stroke-width", 1.6);
  g.selectAll("line.mt").data(monthStarts).join("line")
    .attr("x1", d => ex(d)).attr("x2", d => ex(d)).attr("y1", o.bottom).attr("y2", o.bottom + 6)
    .attr("stroke", "#444").attr("stroke-width", 1.1);
  g.selectAll("text.m").data(monthLabels).join("text")
    .attr("x", (d, i) => ex((monthStarts[i] + monthStarts[i + 1]) / 2)).attr("y", o.labelY)
    .attr("dy", "0.36em").attr("text-anchor", "middle").attr("font-size", FONT).text(d => d);
}

ePanel({ x0: 239, x1: 600, top: 1525, bottom: 1742, labelY: 1771, width: 1.9,
  data: eDailyDays.map((d, i) => ({ d, v: eDailyVals[i] })) });
ePanel({ x0: 831, x1: 1195, top: 1522, bottom: 1739, labelY: 1767, width: 1.0,
  data: eHalfHourVals.map((v, i) => ({ d: i * 365 / (eHalfHourVals.length - 1), v })) });
</script>
</body></html>
